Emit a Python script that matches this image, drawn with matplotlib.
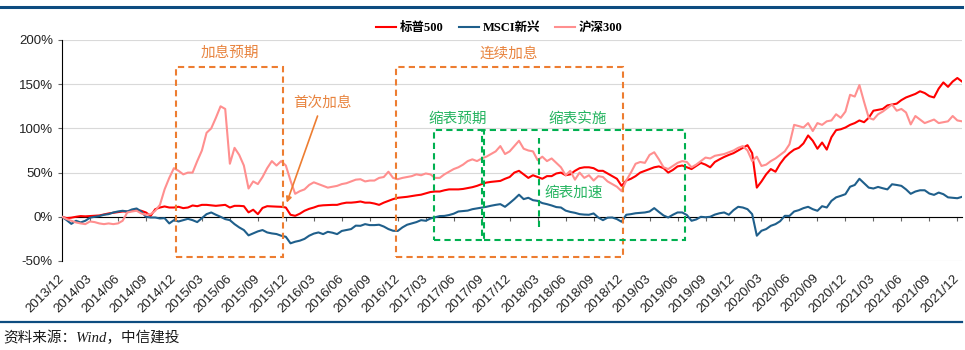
import numpy as np
import matplotlib
matplotlib.use('Agg')
import matplotlib.pyplot as plt
import matplotlib.patches as patches
from matplotlib.lines import Line2D

plt.rcParams['font.family'] = ['Liberation Sans', 'Noto Sans CJK SC']

# x 轴标签（每季度一个）
tick_labels = ['2013/12', '2014/03', '2014/06', '2014/09', '2014/12', '2015/03', '2015/06',
               '2015/09', '2015/12', '2016/03', '2016/06', '2016/09', '2016/12', '2017/03',
               '2017/06', '2017/09', '2017/12', '2018/03', '2018/06', '2018/09', '2018/12',
               '2019/03', '2019/06', '2019/09', '2019/12', '2020/03', '2020/06', '2020/09',
               '2020/12', '2021/03', '2021/06', '2021/09', '2021/12']

# 累计涨跌幅 (%)，每半月一个点，自 2013/12 起
sp500 = [0, -1.5, -1, 0, 0.8, 0.5, 0.8, 1.2, 1.5, 2.6, 3.8, 4.5,
         5.3, 6, 6, 6.8, 7.5, 6.8, 4.9, 1, 8.6, 10.5, 11.7, 10.5,
         10.5, 11.3, 9.8, 10.5, 12.8, 12, 13.5, 13.5, 13, 12.4, 13, 13.5,
         10.5, 12.4, 12.4, 12, 5, 8, 3, 10, 12, 11.7, 11.5, 11.3,
         10.5, 2.3, 1.1, 3.5, 6.8, 9, 10.5, 12.4, 13, 13.3, 13.5, 13.5,
         15, 16, 16, 16.5, 17.3, 16, 16, 15, 13.5, 16, 18, 20,
         21.5, 22, 22.6, 23.5, 24.3, 25, 26.5, 28, 28.6, 28.6, 30, 31,
         31, 31, 31.5, 32.5, 33.5, 35, 37, 38.7, 39.5, 40, 40.6, 43,
         45, 50, 52, 48, 44, 47, 45, 43, 46, 46, 49, 50,
         47, 48, 52, 55, 56, 56, 55, 52, 52, 49, 46, 43,
         35, 41, 43, 46, 50, 52, 54, 56, 57, 55, 50, 53,
         57, 58, 56, 54, 57.5, 61, 59, 56, 62, 65, 67.7, 70,
         72, 75, 78, 81, 72, 33, 40, 48, 54, 51, 60, 67,
         72, 76, 78, 83, 92, 86, 77, 84, 76, 90, 98, 99,
         101, 104, 106, 109, 107, 112, 120, 121, 122, 126, 127, 128,
         132, 135, 137, 139, 142, 140, 136.5, 135, 145, 152, 147, 153,
         157, 153]

msci_em = [0, -3.8, -8, -4.5, -6.4, -4.5, -1, 0, 0.8, 2.3, 3, 4.9,
           6, 6.8, 6, 8.3, 9.4, 6, 0, -0.8, -0.8, -1.9, -1.5, -7.5,
           -3.8, -5.3, -3.8, -2.3, -3.8, -6, -1.5, 3, 4.9, 2.3, 0, -2.6,
           -3.8, -8.3, -12, -15, -21, -18.8, -16.5, -15, -17.7, -18.8, -19.5, -21.4,
           -22.6, -30, -28.2, -27, -25, -21.4, -19, -17.7, -19.6, -17, -18, -19.6,
           -16, -15, -13.9, -10, -10.2, -8.3, -9.4, -9.4, -9, -11, -13.9, -15.8,
           -16, -12, -9, -7.5, -6, -3.8, -4.5, -2, -0.5, 0.8, 1, 2,
           3.5, 6, 6.5, 7, 8.6, 9.5, 10.5, 11.3, 12.5, 13.5, 14.3, 11.3,
           15.5, 20, 25, 20, 21.5, 18.8, 18, 15.5, 14.3, 12.8, 11, 10.5,
           7, 5.5, 4.5, 3, 2.5, 2.3, 3.8, -0.8, -3.8, -1, -0.8, -2.6,
           -5.6, 2.3, 3, 4, 4.5, 4.9, 6, 9.8, 5.5, 1.5, -0.8, 2.3,
           4.9, 4.9, 2, -4.5, -3, 0, -0.5, 0, 2.5, 4, 4.9, 2.3,
           7.5, 11.3, 10.5, 8.6, 3, -21.4, -15.8, -13.9, -10.2, -8.3, -5, 1.1,
           1, 6, 7.5, 9.8, 11.3, 8.6, 6.8, 12, 10.5, 18, 22, 23.7,
           25.6, 34, 36, 43, 38, 33, 32, 33.8, 32.3, 31, 36.8, 36,
           35, 31, 26, 28.6, 30, 30, 26.3, 24.8, 27.4, 25.6, 22, 21.5,
           21, 22.6]

hs300 = [0, -2.6, -4.5, -6.4, -7.5, -8.3, -5.3, -6, -7.5, -8.3, -7.5, -8.3,
         -7.5, -4.5, 4.9, 6, 6.8, 3.8, 2.3, 3, 6.8, 13.5, 31, 44,
         55, 52, 48, 50, 50, 63, 75, 95, 100, 112, 125, 122,
         60, 78, 70, 58, 32, 40, 37, 45, 55, 63, 58, 63,
         58, 41, 26, 29, 31, 36, 39, 37, 35, 33, 34, 35,
         37, 38, 40, 42, 42.5, 40, 41, 41, 44, 45, 51, 44,
         42.5, 44, 45, 46, 48, 47, 49, 48, 44, 44, 48, 51,
         54, 56, 59, 63, 65, 63, 66, 68, 71, 74, 80, 71,
         74, 80, 86, 77, 75, 74, 64, 68, 63, 66, 61, 56,
         47, 52, 42, 50, 44, 47, 41, 46, 45, 40, 37, 34,
         29, 41, 50, 60, 62, 61, 70, 73, 65, 56, 54, 57.5,
         61, 63, 62, 56, 59, 63, 67, 66, 69, 70, 71, 73,
         75, 78, 80, 75, 63, 68, 57.5, 59, 63, 66, 70, 74,
         82, 104, 102.6, 101, 106, 97, 106, 104, 108, 109, 116, 112,
         119, 138, 136, 149, 130, 112, 110, 116, 119, 123, 127, 120,
         122, 118, 104.5, 114, 110, 106, 108, 110, 106, 107, 108, 114,
         109, 108]

months = np.arange(len(sp500)) * 0.5

ORANGE = '#ED7D31'
ORANGE_TXT = '#E8843F'
GREEN = '#00B050'
GREEN_TXT = '#25B460'

fig = plt.figure(figsize=(9.65, 3.5), dpi=100)
ax = fig.add_axes([0.06425, 0.2543, 0.93264, 0.63143])

ax.plot(months, sp500, color='#FF0000', lw=1.5, label='标普500', zorder=3)
ax.plot(months, msci_em, color='#1F5F8B', lw=1.5, label='MSCI新兴', zorder=3)
ax.plot(months, hs300, color='#FF8F8F', lw=1.5, label='沪深300', zorder=3)

ax.set_xlim(0, 96.5)
ax.set_ylim(-50, 200)
ax.set_yticks([-50, 0, 50, 100, 150, 200])
ax.set_yticklabels([f'{v}%' for v in [-50, 0, 50, 100, 150, 200]])
ax.grid(axis='y', color='#D9D9D9', lw=0.8)
ax.set_axisbelow(True)

ax.spines['top'].set_visible(False)
ax.spines['right'].set_visible(False)
ax.spines['bottom'].set_position(('data', 0))
ax.spines['bottom'].set_color('black')
ax.spines['left'].set_color('black')

ax.set_xticks(range(0, 97, 3))
ax.set_xticklabels(tick_labels, rotation=45, ha='right', va='center',
                   rotation_mode='anchor')
ax.tick_params(axis='x', length=3, color='#666666', pad=40, labelsize=9.5,
               labelcolor='#222222')
ax.tick_params(axis='y', length=3, color='#666666', labelsize=9.5,
               labelcolor='#222222')

# 标注框
dash = (0, (3, 2))
orange_boxes = [(12.2, 23.7), (35.8, 60.1)]
green_boxes = [(39.9, 45.0), (45.3, 66.8)]
for x0, x1 in orange_boxes:
    ax.add_patch(patches.Rectangle((x0, -46), x1 - x0, 216, fill=False,
                                   edgecolor=ORANGE, lw=1.5, linestyle=dash, zorder=4))
for x0, x1 in green_boxes:
    ax.add_patch(patches.Rectangle((x0, -26), x1 - x0, 124, fill=False,
                                   edgecolor=GREEN, lw=1.5, linestyle=dash, zorder=4))
ax.plot([51.1, 51.1], [-11, 89], color=GREEN, lw=1.5, linestyle=dash, zorder=4)

labels = [('加息预期', 17.95, 185, ORANGE_TXT),
          ('连续加息', 47.96, 185, ORANGE_TXT),
          ('缩表预期', 42.4, 111, GREEN_TXT),
          ('缩表实施', 55.3, 111, GREEN_TXT),
          ('缩表加速', 54.9, 27.5, GREEN_TXT),
          ('首次加息', 27.9, 129, ORANGE_TXT)]
for txt, x, y, c in labels:
    ax.text(x, y, txt, color=c, fontsize=10.5, ha='center', va='center',
            family='Noto Sans CJK SC', zorder=5)

ax.annotate('', xy=(24.1, 16), xytext=(27.4, 114),
            arrowprops=dict(arrowstyle='-|>', color=ORANGE, lw=1.2,
                            mutation_scale=8, shrinkA=0, shrinkB=0), zorder=5)

ax.legend(loc='center', bbox_to_anchor=(0.5175, 0.92), bbox_transform=fig.transFigure,
          ncol=3, frameon=False, handlelength=1.6, handletextpad=0.3,
          columnspacing=1.2,
          prop=dict(family=['Liberation Serif', 'Noto Sans CJK SC'], weight='bold', size=9))

# 顶部和底部的蓝色线条
fig.add_artist(Line2D([0.001, 0.997], [0.98, 0.98], color='#0D4C80', lw=2.2))
fig.add_artist(Line2D([0.001, 0.997], [0.081, 0.081], color='#0D4C80', lw=1.6))
fig.text(0.003, 0.034, '资料来源：Wind，中信建投', fontsize=10.5, style='italic',
         family=['Liberation Serif', 'Noto Sans CJK SC'], color='#1A1A1A', va='center')

fig.savefig('out.png', dpi=100)
